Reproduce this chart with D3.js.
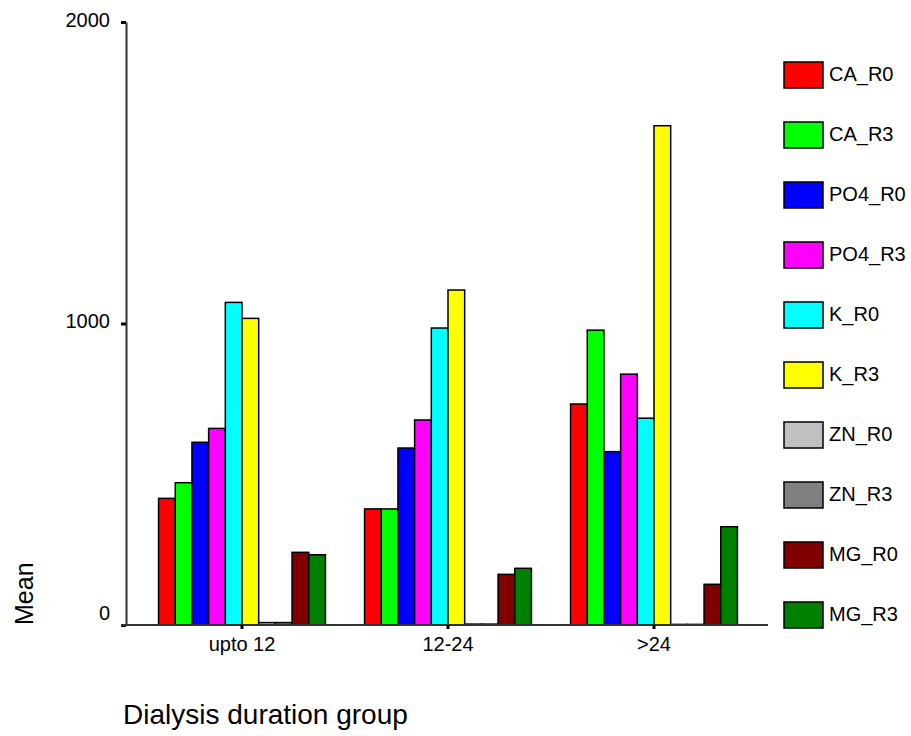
<!DOCTYPE html>
<html>
<head>
<meta charset="utf-8">
<script src="https://cdn.jsdelivr.net/npm/d3@7"></script>
<style>
  body { margin: 0; background: #fff; }
  text { font-family: Arial, "Liberation Sans", sans-serif; fill: #000; }
</style>
</head>
<body>
<svg id="chart" width="911" height="736"></svg>
<script>
// groups on the x axis
var groups = ["upto 12", "12-24", ">24"];
var series = ["CA_R0", "CA_R3", "PO4_R0", "PO4_R3", "K_R0", "K_R3", "ZN_R0", "ZN_R3", "MG_R0", "MG_R3"];
var colors = ["#ff0000", "#00ff00", "#0000ff", "#ff00ff", "#00ffff", "#ffff00", "#c0c0c0", "#808080", "#800000", "#008000"];

// mean per series, one value per group (upto 12, 12-24, >24)
var CA_R0 = [420, 385, 733];
var CA_R3 = [472, 385, 978];
var PO4_R0 = [606, 587, 575];
var PO4_R3 = [652, 680, 832];
var K_R0 = [1070, 985, 686];
var K_R3 = [1017, 1111, 1656];
var ZN_R0 = [8, 3, 2];
var ZN_R3 = [8, 3, 2];
var MG_R0 = [241, 168, 135];
var MG_R3 = [233, 188, 326];

var yTicks = [0, 1000, 2000];

var values = [CA_R0, CA_R3, PO4_R0, PO4_R3, K_R0, K_R3, ZN_R0, ZN_R3, MG_R0, MG_R3];

var rows = [];
groups.forEach(function(g, gi) {
  series.forEach(function(s, si) {
    rows.push({ group: g, key: s, value: values[si][gi], color: colors[si] });
  });
});

var svg = d3.select("#chart");

var y = d3.scaleLinear().domain([0, 2000]).range([625, 22]);

var x0 = d3.scaleBand()
  .domain(groups)
  .range([139, 757])
  .paddingInner(0.19)
  .paddingOuter(0.095);

var x1 = d3.scaleBand()
  .domain(series)
  .range([0, x0.bandwidth()]);

// bars
svg.append("g")
  .selectAll("rect")
  .data(rows)
  .enter()
  .append("rect")
  .attr("x", function(d) { return x0(d.group) + x1(d.key); })
  .attr("y", function(d) { return y(d.value); })
  .attr("width", x1.bandwidth())
  .attr("height", function(d) { return y(0) - y(d.value); })
  .attr("fill", function(d) { return d.color; })
  .attr("stroke", "#000")
  .attr("stroke-width", 1.5);

// y axis
var yAxis = svg.append("g")
  .attr("transform", "translate(126,0)")
  .call(d3.axisLeft(y).tickValues(yTicks).tickSize(5).tickSizeOuter(0).tickFormat(d3.format("d")));
yAxis.select(".domain").attr("stroke", "#333").attr("stroke-width", 2);
yAxis.selectAll(".tick line").attr("stroke", "#000").attr("stroke-width", 3);
yAxis.selectAll(".tick text")
  .attr("x", -16)
  .attr("dy", function(d) { return d === 0 ? "-0.3em" : "0.2em"; })
  .style("font-size", "20px")
  .style("fill", "#000");

// x axis
var xAxis = svg.append("g")
  .attr("transform", "translate(0,625)")
  .call(d3.axisBottom(x0).tickSize(4).tickSizeOuter(0));
xAxis.select(".domain").attr("d", "M121,0H768").attr("stroke", "#333").attr("stroke-width", 2);
xAxis.selectAll(".tick line").attr("stroke", "#000").attr("stroke-width", 3);
xAxis.selectAll(".tick text")
  .attr("y", 12)
  .attr("dy", "0.72em")
  .style("font-size", "20px")
  .style("fill", "#000");

// axis titles
svg.append("text")
  .attr("transform", "translate(33,625) rotate(-90)")
  .style("font-size", "25px")
  .text("Mean");

svg.append("text")
  .attr("x", 123)
  .attr("y", 724)
  .style("font-size", "28px")
  .text("Dialysis duration group");

// legend
var legend = svg.append("g")
  .selectAll("g")
  .data(series)
  .enter()
  .append("g")
  .attr("transform", function(d, i) { return "translate(784," + (62 + i * 60) + ")"; });

legend.append("rect")
  .attr("width", 39)
  .attr("height", 26)
  .attr("fill", function(d, i) { return colors[i]; })
  .attr("stroke", "#000")
  .attr("stroke-width", 1.5);

legend.append("text")
  .attr("x", 45)
  .attr("y", 19)
  .style("font-size", "20px")
  .text(function(d) { return d; });
</script>
</body>
</html>
